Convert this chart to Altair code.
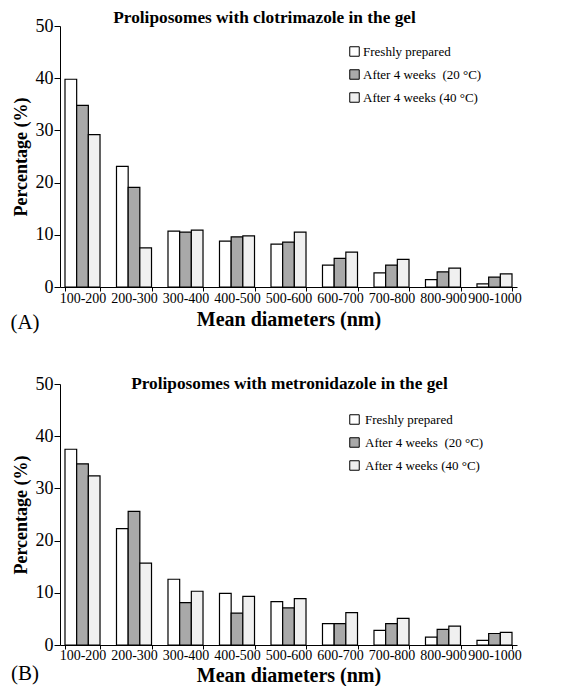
import altair as alt
import pandas as pd

categories = ["100-200", "200-300", "300-400", "400-500", "500-600",
              "600-700", "700-800", "800-900", "900-1000"]
series = ["Freshly prepared", "After 4 weeks\u00a0 (20 °C)", "After 4 weeks (40 °C)"]
colors = ["#ffffff", "#a9a9a9", "#f0f0f0"]

# Panel A: clotrimazole
a_fresh = [39.8, 23.1, 10.7, 8.8, 8.2, 4.2, 2.7, 1.4, 0.6]
a_20 = [34.8, 19.1, 10.5, 9.6, 8.6, 5.5, 4.2, 2.9, 1.9]
a_40 = [29.2, 7.5, 10.9, 9.8, 10.5, 6.7, 5.3, 3.6, 2.5]

# Panel B: metronidazole
b_fresh = [37.5, 22.3, 12.6, 9.9, 8.3, 4.1, 2.8, 1.5, 0.9]
b_20 = [34.7, 25.6, 8.1, 6.1, 7.1, 4.1, 4.1, 3.0, 2.2]
b_40 = [32.4, 15.7, 10.3, 9.3, 8.9, 6.2, 5.1, 3.6, 2.4]

W, H = 457, 261
FONT = "Liberation Serif"


def make_df(lists):
    rows = []
    for s, vals in zip(series, lists):
        for c, v in zip(categories, vals):
            rows.append({"cat": c, "series": s, "pct": v})
    return pd.DataFrame(rows)


def panel(lists, title, label, label_dy, title_dx, title_off, leg_y, leg_off, xt_pad, xl_pad):
    df = make_df(lists)
    bars = alt.Chart(df).mark_bar(stroke="black", strokeWidth=1.2).encode(
        x=alt.X("cat:N", sort=categories,
                scale=alt.Scale(paddingInner=0.32, paddingOuter=0.097),
                axis=alt.Axis(title="Mean diameters (nm)", labelAngle=0,
                              tickBand="extent", labelFontSize=14, tickSize=4,
                              labelPadding=xl_pad, titleFontSize=20, titleFontWeight="bold",
                              titlePadding=xt_pad)),
        xOffset=alt.XOffset("series:N", sort=series,
                            scale=alt.Scale(domain=series, paddingInner=0, paddingOuter=0)),
        y=alt.Y("pct:Q", scale=alt.Scale(domain=[0, 50], nice=False),
                axis=alt.Axis(values=[0, 10, 20, 30, 40, 50], title="Percentage (%)",
                              grid=False, labelFontSize=18, tickSize=6, labelPadding=1,
                              titleFontSize=18, titleFontWeight="bold", titlePadding=5)),
        fill=alt.Fill("series:N", sort=series,
                      scale=alt.Scale(domain=series, range=colors),
                      legend=alt.Legend(title=None, orient="none", legendX=288,
                                        legendY=leg_y, symbolType="square",
                                        symbolSize=90, symbolStrokeColor="black",
                                        symbolStrokeWidth=1, labelFont=FONT,
                                        labelFontSize=13, labelColor="black",
                                        labelOffset=leg_off, rowPadding=8)),
    )
    lab = alt.Chart(pd.DataFrame({"t": [label]})).mark_text(
        font=FONT, fontSize=21, align="center", baseline="middle", color="black"
    ).encode(text="t:N", x=alt.value(-35), y=alt.value(H + label_dy))
    return alt.layer(bars, lab).properties(
        width=W, height=H,
        title=alt.TitleParams(title, font=FONT, fontSize=17.3, fontWeight="bold",
                              anchor="middle", dx=title_dx, offset=title_off,
                              color="black"),
    )


pa = panel([a_fresh, a_20, a_40], "Proliposomes with clotrimazole in the gel", "(A)", 36,
           -24, -9, 19, 2, 4, 0)
pb = panel([b_fresh, b_20, b_40], "Proliposomes with metronidazole in the gel", "(B)", 29,
           1, -17, 29, 4, 3, -1)

chart = alt.vconcat(pa, pb, spacing=41).resolve_scale(
    fill="independent", x="independent", y="independent"
).resolve_legend(fill="independent").properties(
    padding={"left": 10, "top": 8, "right": 5, "bottom": 5},
    background="white"
).configure_view(stroke=None).configure_axis(
    labelFont=FONT, titleFont=FONT, labelColor="black", titleColor="black",
    domainColor="black", tickColor="black", domainWidth=1, tickWidth=1
)

chart.save("out.html", embed_options={"renderer": "svg", "actions": False})
